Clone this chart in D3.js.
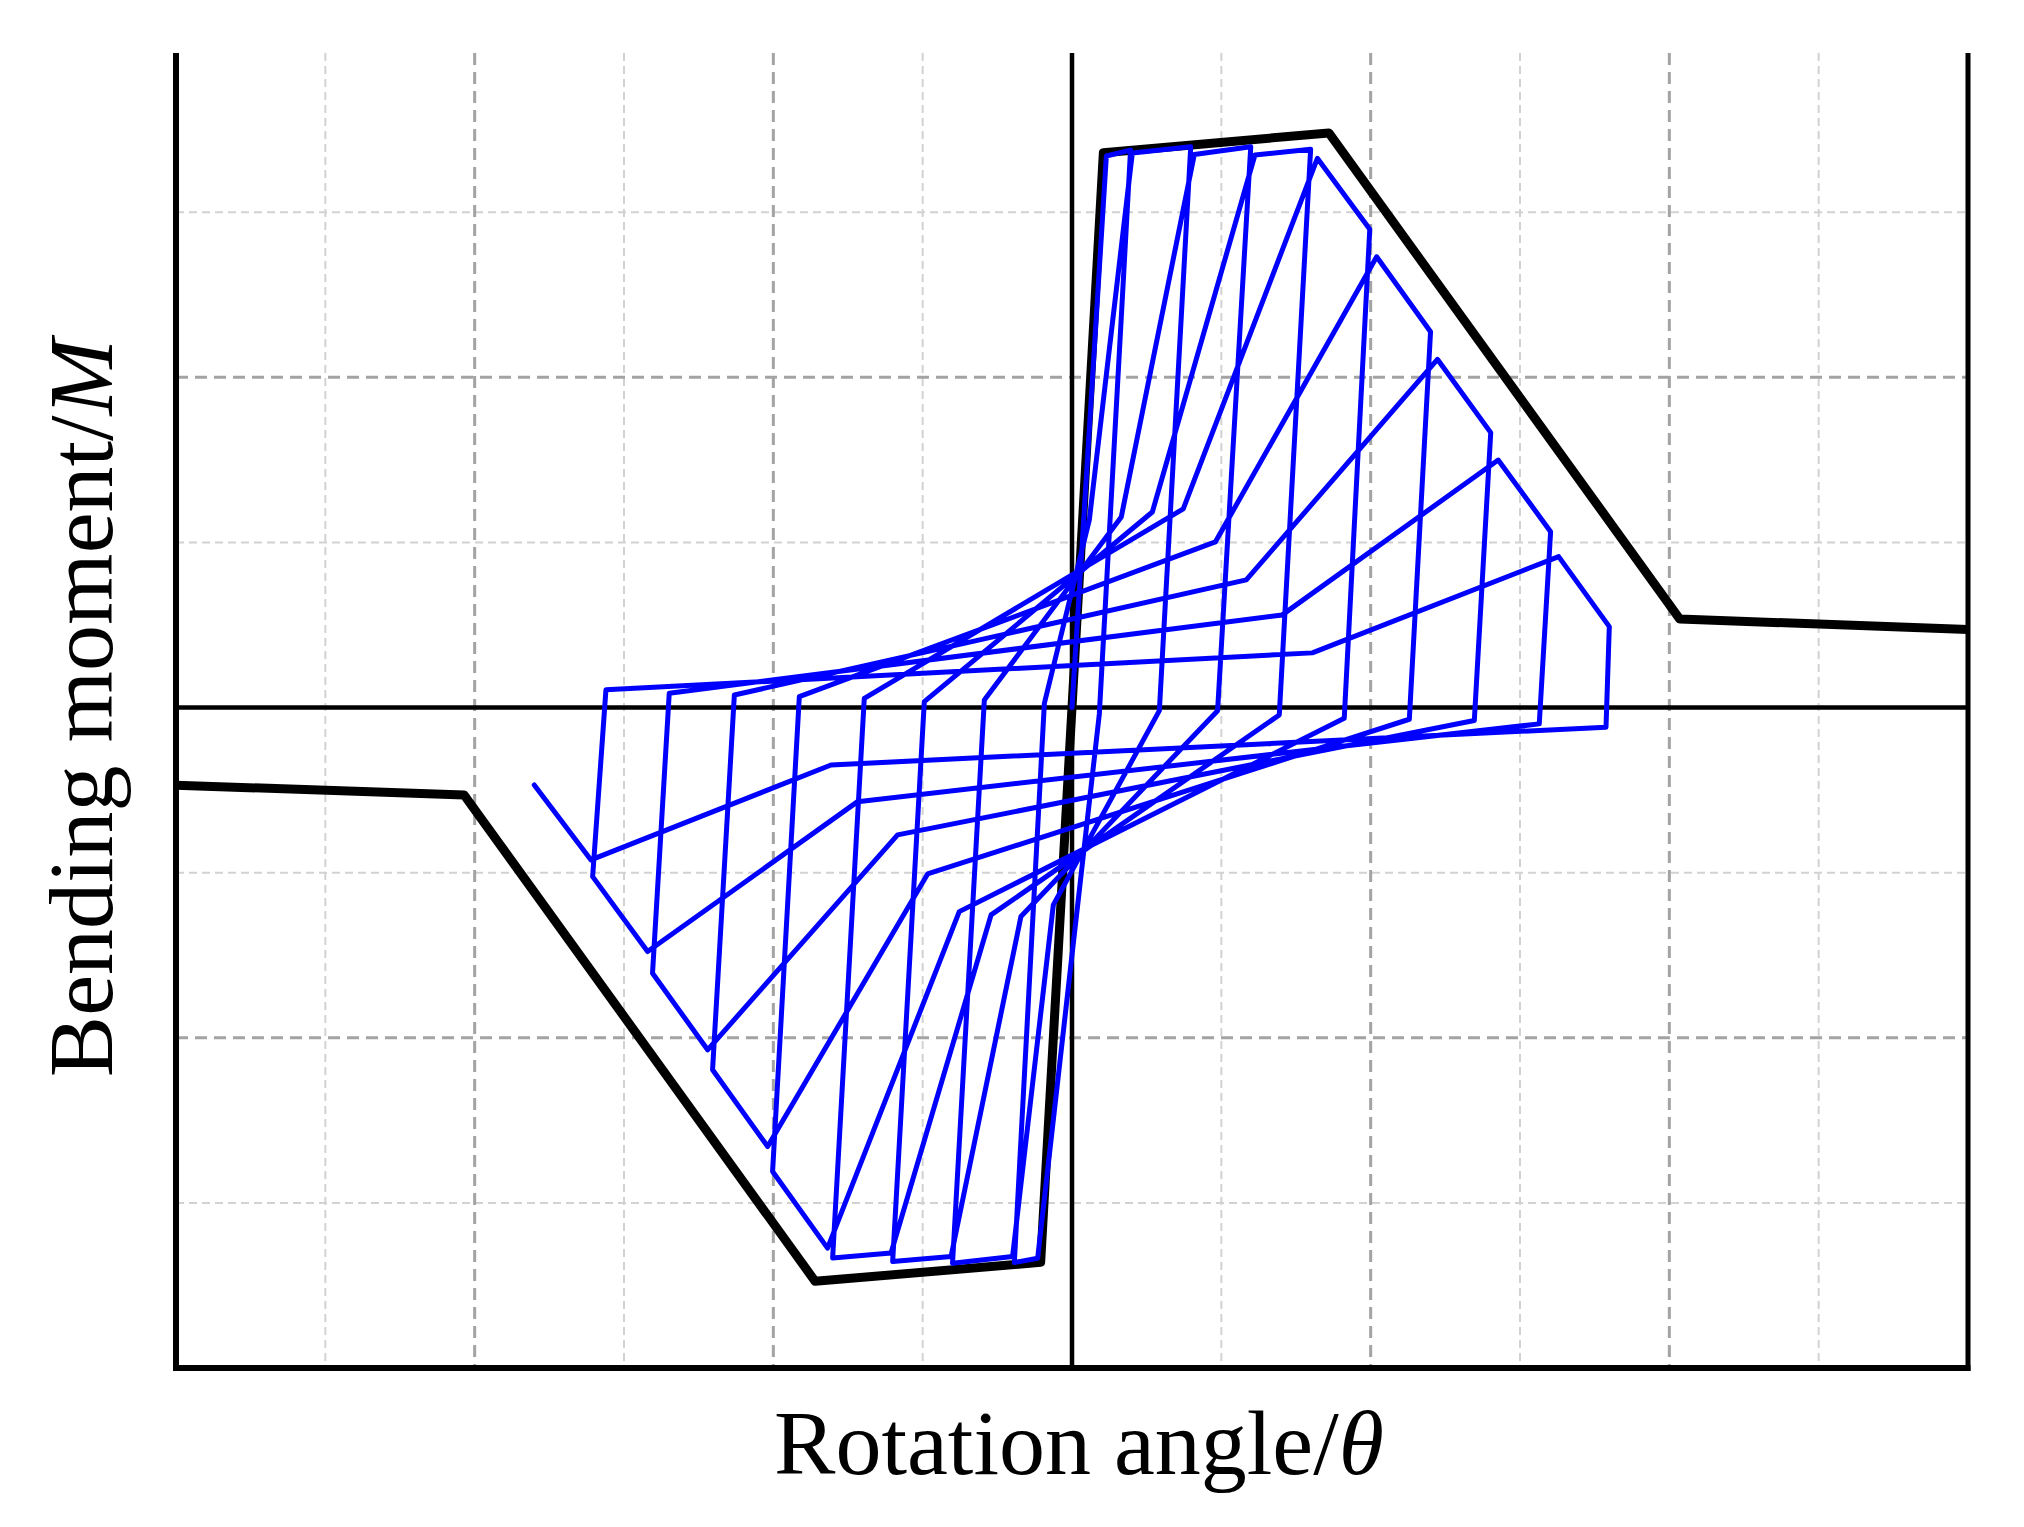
<!DOCTYPE html>
<html>
<head>
<meta charset="utf-8">
<script src="https://cdn.jsdelivr.net/npm/d3@7"></script>
<style>
  html, body { margin: 0; padding: 0; background: #ffffff; }
  svg { display: block; }
</style>
</head>
<body>
<script>
// ---------------- data ----------------
// Backbone (skeleton) curve: rotation angle (grid units) and bending moment (grid units)
const skeletonTheta  = [-6.00, -4.07, -1.72, -0.21, 0.21, 1.72, 4.07, 6.00];
const skeletonMoment = [-0.47, -0.53, -3.475, -3.36, 3.36, 3.48, 0.536, 0.473];

// Hysteresis loops (one continuous path)
const loopTheta = [
  0.000, 0.230, 0.392, 0.183, -0.230, -0.386, -0.185,
  0.116, 0.404, 0.795, 0.585, -0.125, -0.398, -0.800, -0.587,
  0.330, 0.819, 1.197, 0.975, -0.342, -0.810, -1.201, -0.989,
  0.538, 1.225, 1.598, 1.388, -0.542, -1.212, -1.603, -1.391,
  0.745, 1.643, 1.994, 1.823, -0.755, -1.637, -2.005, -1.826,
  0.960, 2.040, 2.401, 2.259, -0.967, -2.038, -2.407, -2.261,
  1.167, 2.447, 2.804, 2.694, -1.168, -2.440, -2.809, -2.697,
  1.408, 2.854, 3.205, 3.129, -1.436, -2.842, -3.210, -3.121,
  1.609, 3.259, 3.598, 3.576, -1.614, -3.221, -3.601
];
const loopMoment = [
  0.000, 3.340, 3.376, -0.039, -3.335, -3.361, 0.026,
  1.136, 3.358, 3.396, -0.019, -1.195, -3.325, -3.365, 0.046,
  1.154, 3.349, 3.396, -0.019, -1.266, -3.325, -3.355, 0.036,
  1.184, 3.346, 3.381, -0.045, -1.256, -3.304, -3.334, 0.056,
  1.203, 3.326, 2.896, -0.065, -1.236, -3.274, -2.810, 0.066,
  1.003, 2.730, 2.276, -0.071, -1.008, -2.659, -2.194, 0.076,
  0.773, 2.109, 1.665, -0.079, -0.771, -2.073, -1.609, 0.087,
  0.561, 1.499, 1.065, -0.099, -0.570, -1.478, -1.024, 0.107,
  0.331, 0.914, 0.490, -0.119, -0.348, -0.923, -0.469
];

// Grid values
const xMinorGrid = [-5, -3, -1, 1, 3, 5];
const xMajorGrid = [-4, -2, 2, 4];
const yMinorGrid = [-3, -1, 1, 3];
const yMajorGrid = [-2, 2];

const xLabelText = "Rotation angle/";
const xLabelSymbol = "θ";
const yLabelText = "Bending moment/";
const yLabelSymbol = "M";

(function () {
// ---------------- layout ----------------
const W = 2024, H = 1527;
const pLeft = 176, pRight = 1968, pTop = 53, pBottom = 1368;

const x = d3.scaleLinear().domain([-6, 6]).range([pLeft, pRight]);
const y = d3.scaleLinear().domain([-4, 3.964]).range([pBottom, pTop]);

const svg = d3.select("body").append("svg")
  .attr("width", W).attr("height", H)
  .attr("viewBox", `0 0 ${W} ${H}`);

svg.append("rect").attr("width", W).attr("height", H).attr("fill", "#ffffff");

// ---------------- grid ----------------
const grid = svg.append("g");
function vGrid(vals, color, w, dash) {
  grid.selectAll(null).data(vals).enter().append("line")
    .attr("x1", d => x(d)).attr("x2", d => x(d))
    .attr("y1", pTop).attr("y2", pBottom)
    .attr("stroke", color).attr("stroke-width", w).attr("stroke-dasharray", dash);
}
function hGrid(vals, color, w, dash) {
  grid.selectAll(null).data(vals).enter().append("line")
    .attr("y1", d => y(d)).attr("y2", d => y(d))
    .attr("x1", pLeft).attr("x2", pRight)
    .attr("stroke", color).attr("stroke-width", w).attr("stroke-dasharray", dash);
}
hGrid(yMinorGrid, "#d2d2d2", 2, "8,5");
vGrid(xMinorGrid, "#d2d2d2", 2, "8,5");
hGrid(yMajorGrid, "#a3a3a3", 3, "12,7");
vGrid(xMajorGrid, "#a3a3a3", 3, "12,7");

// zero lines
svg.append("line")
  .attr("x1", x(0)).attr("x2", x(0)).attr("y1", pTop).attr("y2", pBottom)
  .attr("stroke", "#000").attr("stroke-width", 4.5);
svg.append("line")
  .attr("x1", pLeft).attr("x2", pRight).attr("y1", y(0)).attr("y2", y(0))
  .attr("stroke", "#000").attr("stroke-width", 4.5);

// ---------------- curves ----------------
const line = d3.line().x(d => x(d[0])).y(d => y(d[1]));

const skeleton = skeletonTheta.map((t, i) => [t, skeletonMoment[i]]);
svg.append("path").datum(skeleton)
  .attr("d", line)
  .attr("fill", "none").attr("stroke", "#000000")
  .attr("stroke-width", 9).attr("stroke-linejoin", "round").attr("stroke-linecap", "butt");

const loops = loopTheta.map((t, i) => [t, loopMoment[i]]);
svg.append("path").datum(loops)
  .attr("d", line)
  .attr("fill", "none").attr("stroke", "#0000ff")
  .attr("stroke-width", 5).attr("stroke-linejoin", "round").attr("stroke-linecap", "round");

// ---------------- frame ----------------
svg.append("line").attr("x1", pLeft).attr("x2", pLeft).attr("y1", pTop).attr("y2", pBottom + 3)
  .attr("stroke", "#000").attr("stroke-width", 6);
svg.append("line").attr("x1", pRight).attr("x2", pRight).attr("y1", pTop).attr("y2", pBottom + 3)
  .attr("stroke", "#000").attr("stroke-width", 5);
svg.append("line").attr("x1", pLeft - 3).attr("x2", pRight + 2.5).attr("y1", pBottom).attr("y2", pBottom)
  .attr("stroke", "#000").attr("stroke-width", 6);

// ---------------- labels ----------------
const fontFamily = "'Liberation Serif', 'DejaVu Serif', serif";
const xl = svg.append("text")
  .attr("x", (pLeft + pRight) / 2 + 7).attr("y", 1474)
  .attr("text-anchor", "middle")
  .attr("font-family", fontFamily).attr("font-size", 92).attr("fill", "#000");
xl.append("tspan").text(xLabelText);
xl.append("tspan").attr("font-style", "italic").text(xLabelSymbol);

const yl = svg.append("text")
  .attr("transform", `translate(112, 708) rotate(-90)`)
  .attr("text-anchor", "middle")
  .attr("font-family", fontFamily).attr("font-size", 92).attr("fill", "#000");
yl.append("tspan").text(yLabelText);
yl.append("tspan").attr("font-style", "italic").text(yLabelSymbol);
})();
</script>
</body>
</html>
